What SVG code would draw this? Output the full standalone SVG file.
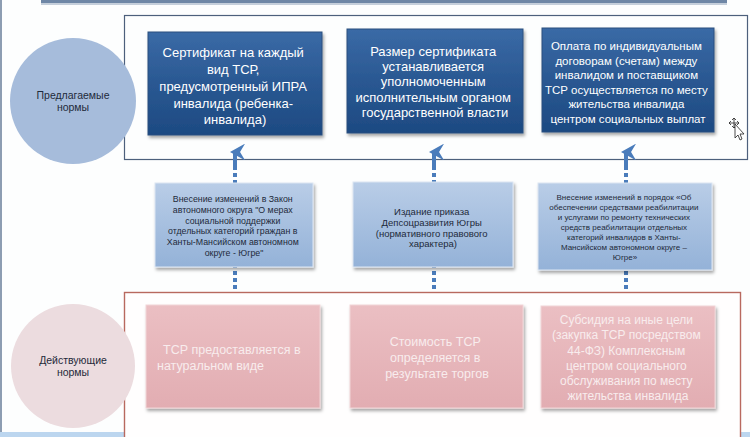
<svg xmlns="http://www.w3.org/2000/svg" width="750" height="437" viewBox="0 0 750 437">
<defs>
<linearGradient id="gDark" x1="0" y1="0" x2="0" y2="1">
<stop offset="0" stop-color="#3a6aa6"/><stop offset="0.5" stop-color="#2a5892"/><stop offset="1" stop-color="#1d4a82"/>
</linearGradient>
<linearGradient id="gLight" x1="0" y1="0" x2="0" y2="1">
<stop offset="0" stop-color="#b9cde7"/><stop offset="1" stop-color="#94b2d8"/>
</linearGradient>
<linearGradient id="gPink" x1="0" y1="0" x2="0" y2="1">
<stop offset="0" stop-color="#ebbfc3"/><stop offset="1" stop-color="#e2adb2"/>
</linearGradient>
<filter id="sh" x="-10%" y="-10%" width="125%" height="130%">
<feDropShadow dx="1.5" dy="2.5" stdDeviation="1.5" flood-color="#000" flood-opacity="0.35"/>
</filter>
<marker id="ah" viewBox="0 0 10 10" refX="5" refY="3" markerWidth="4.2" markerHeight="4.2" orient="auto-start-reverse" markerUnits="strokeWidth">
<path d="M0,9 L5,0 L10,9 L5,6 Z" fill="#4a7cbb"/>
</marker>
</defs>
<style>
.dark{fill:url(#gDark);stroke:#2b4f7e;stroke-width:1;filter:url(#sh)}
.light{fill:url(#gLight);stroke:#dce6f2;stroke-width:1;filter:url(#sh)}
.pink{fill:url(#gPink);stroke:#f1d5d7;stroke-width:1;filter:url(#sh)}
.tw{font-family:"Liberation Sans",Arial,sans-serif;fill:#ffffff;text-anchor:middle}
.td{font-family:"Liberation Sans",Arial,sans-serif;fill:#1e2a3a;text-anchor:middle}
.tp{font-family:"Liberation Sans",Arial,sans-serif;fill:#f8eced;text-anchor:middle}
.conn{stroke:#4a7cbb;stroke-width:4;fill:none}
</style>
<rect x="0" y="0" width="750" height="437" fill="#fdfefe"/>
<rect x="0" y="0" width="2" height="437" fill="#8d9db2"/>
<rect x="41" y="0" width="686" height="3" fill="#6f87a6"/>
<rect x="41" y="3" width="686" height="2" fill="#c5cfdb"/>
<rect x="0" y="432" width="750" height="5" fill="#bcd6ef"/>

<g id="frame-proposed"><rect x="124.5" y="15.5" width="623" height="144" fill="#fdfefe" stroke="#4d607c" stroke-width="1.2"/></g>
<g id="frame-current"><rect x="124.5" y="292.5" width="616" height="150" fill="#fffefe" stroke="#b8695f" stroke-width="1.4"/></g>

<g id="connectors">
<line class="conn" x1="235" y1="289" x2="235" y2="168" stroke-dasharray="4 3"/>
<line class="conn" x1="235" y1="169" x2="235" y2="152" marker-end="url(#ah)"/>
<line class="conn" x1="434" y1="289" x2="434" y2="168" stroke-dasharray="4 3"/>
<line class="conn" x1="434" y1="169" x2="434" y2="152" marker-end="url(#ah)"/>
<line class="conn" x1="626" y1="289" x2="626" y2="168" stroke-dasharray="4 3"/>
<line class="conn" x1="626" y1="169" x2="626" y2="152" marker-end="url(#ah)"/>
</g>

<g id="circle-proposed">
<circle cx="73" cy="101" r="63" fill="#a6bcdb"/>
<text class="td" font-size="10.5" x="73" y="99">Предлагаемые</text>
<text class="td" font-size="10.5" x="73" y="111">нормы</text>
</g>
<g id="circle-current">
<circle cx="73" cy="366" r="62" fill="#ecdcdf"/>
<text class="td" font-size="10.5" x="73" y="364">Действующие</text>
<text class="td" font-size="10.5" x="73" y="376">нормы</text>
</g>

<g id="box-certificate">
<rect class="dark" x="148" y="32" width="174" height="103"/>
<text class="tw" font-size="13">
<tspan x="235" y="56.5">Сертификат на каждый</tspan>
<tspan x="235" y="74">вид ТСР,</tspan>
<tspan x="235" y="91">предусмотренный ИПРА</tspan>
<tspan x="235" y="107.5">инвалида (ребенка-</tspan>
<tspan x="235" y="123.5">инвалида)</tspan>
</text>
</g>
<g id="box-size">
<rect class="dark" x="347" y="29" width="176" height="104"/>
<text class="tw" font-size="13">
<tspan x="435" y="56">Размер сертификата</tspan>
<tspan x="435" y="71">устанавливается</tspan>
<tspan x="435" y="86">уполномоченным</tspan>
<tspan x="435" y="101.5">исполнительным органом</tspan>
<tspan x="435" y="117">государственной власти</tspan>
</text>
</g>
<g id="box-payment">
<rect class="dark" x="542" y="28" width="172" height="104"/>
<text class="tw" font-size="11.5">
<tspan x="628" y="50">Оплата по индивидуальным</tspan>
<tspan x="628" y="64.5">договорам (счетам) между</tspan>
<tspan x="628" y="79">инвалидом и поставщиком</tspan>
<tspan x="628" y="93.5">ТСР осуществляется по месту</tspan>
<tspan x="628" y="108">жительства инвалида</tspan>
<tspan x="628" y="122.5">центром социальных выплат</tspan>
</text>
</g>

<g id="box-law">
<rect class="light" x="155" y="183" width="158" height="84"/>
<text class="td" font-size="8.8">
<tspan x="234" y="202">Внесение изменений в Закон</tspan>
<tspan x="234" y="212.8">автономного округа "О мерах</tspan>
<tspan x="234" y="223.6">социальной поддержки</tspan>
<tspan x="234" y="234.4">отдельных категорий граждан в</tspan>
<tspan x="234" y="245.2">Ханты-Мансийском автономном</tspan>
<tspan x="234" y="256">округе - Югре"</tspan>
</text>
</g>
<g id="box-order">
<rect class="light" x="353" y="182" width="160" height="85"/>
<text class="td" font-size="9.5">
<tspan x="433" y="215">Издание приказа</tspan>
<tspan x="433" y="226">Депсоцразвития Югры</tspan>
<tspan x="433" y="236.5">(нормативного правового</tspan>
<tspan x="433" y="247">характера)</tspan>
</text>
</g>
<g id="box-procedure">
<rect class="light" x="538" y="183" width="174" height="87"/>
<text class="td" font-size="8">
<tspan x="625" y="200">Внесение изменений в порядок «Об</tspan>
<tspan x="625" y="210">обеспечении средствами реабилитации</tspan>
<tspan x="625" y="220">и услугами по ремонту технических</tspan>
<tspan x="625" y="230">средств реабилитации отдельных</tspan>
<tspan x="625" y="240">категорий инвалидов в Ханты-</tspan>
<tspan x="625" y="250">Мансийском автономном округе –</tspan>
<tspan x="625" y="260">Югре»</tspan>
</text>
</g>

<g id="box-natural">
<rect class="pink" x="146" y="305" width="174" height="103"/>
<text class="tp" font-size="12.5" style="text-anchor:start">
<tspan x="163" y="354">ТСР предоставляется в</tspan>
<tspan x="157" y="370">натуральном виде</tspan>
</text>
</g>
<g id="box-cost">
<rect class="pink" x="350" y="305" width="173" height="103"/>
<text class="tp" font-size="12.5">
<tspan x="437" y="346">Стоимость ТСР</tspan>
<tspan x="437" y="362">определяется в</tspan>
<tspan x="437" y="378">результате торгов</tspan>
</text>
</g>
<g id="box-subsidy">
<rect class="pink" x="541" y="306" width="174" height="102"/>
<text class="tp" font-size="12">
<tspan x="628" y="324">Субсидия на иные цели</tspan>
<tspan x="628" y="339">(закупка ТСР посредством</tspan>
<tspan x="628" y="355">44-ФЗ) Комплексным</tspan>
<tspan x="628" y="370">центром социального</tspan>
<tspan x="628" y="385">обслуживания по месту</tspan>
<tspan x="628" y="400">жительства инвалида</tspan>
</text>
</g>

<g id="cursor" stroke="#222" stroke-width="0.8">
<path d="M734,118 V128 M729,123 H739" fill="none"/>
<path d="M731,121 L729,123 L731,125 M737,121 L739,123 L737,125 M732,120 L734,118 L736,120 M732,126 L734,128 L736,126" fill="none"/>
<path d="M735,124 L735,138 L738,135 L740,140 L742,139 L740,134 L744,134 Z" fill="#fff"/>
</g>
</svg>
